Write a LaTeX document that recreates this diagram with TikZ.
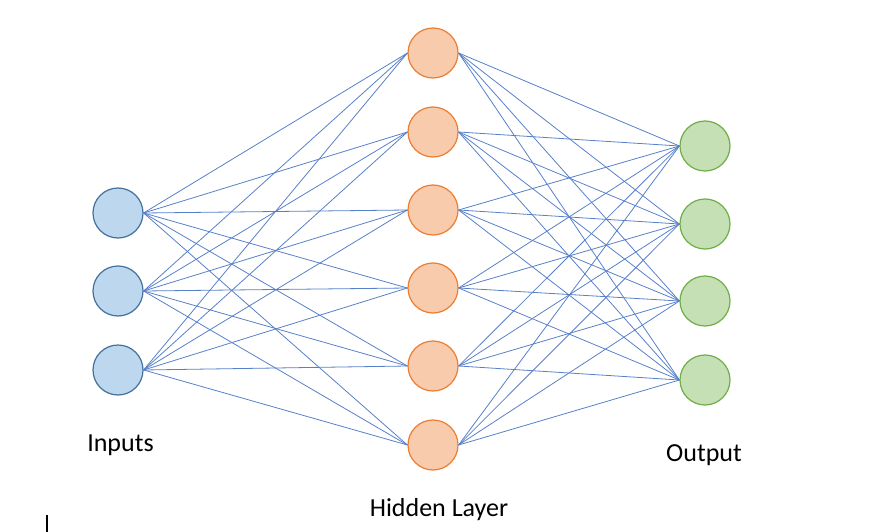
\documentclass[tikz,border=0pt]{standalone}
\usepackage{fontspec}
\setmainfont{Carlito}
\definecolor{linkblue}{HTML}{4472C4}
\definecolor{infill}{HTML}{BDD7EE}
\definecolor{indraw}{HTML}{41719C}
\definecolor{hidfill}{HTML}{F8CBAD}
\definecolor{hiddraw}{HTML}{ED7D31}
\definecolor{outfill}{HTML}{C5E0B4}
\definecolor{outdraw}{HTML}{70AD47}

\begin{document}
\begin{tikzpicture}[x=1pt,y=-1pt,
    neuron/.style={circle, minimum size=50pt, inner sep=0pt, line width=1.2pt},
    inneuron/.style={neuron, draw=indraw, fill=infill},
    hidneuron/.style={neuron, draw=hiddraw, fill=hidfill},
    outneuron/.style={neuron, draw=outdraw, fill=outfill},
    link/.style={draw=linkblue!90, line width=0.8pt},
    layername/.style={anchor=base, inner sep=0pt, font=\fontsize{26}{30}\selectfont}]
    \useasboundingbox (0,0) rectangle (886,532);

    % Capa de entrada
    \foreach \i/\y in {1/213,2/291,3/370} {
        \node[inneuron] (in\i) at (118,\y) {};
    }

    % Capa oculta
    \foreach \i/\y in {1/53,2/132,3/210,4/288,5/366,6/445} {
        \node[hidneuron] (hid\i) at (433,\y) {};
    }

    % Capa de salida
    \foreach \i/\y in {1/146,2/224,3/301,4/380} {
        \node[outneuron] (out\i) at (705,\y) {};
    }

    % Conexiones entrada -> oculta
    \foreach \i in {1,...,3} {
        \foreach \j in {1,...,6} {
            \draw[link] (in\i.east) -- (hid\j.west);
        }
    }

    % Conexiones oculta -> salida
    \foreach \j in {1,...,6} {
        \foreach \k in {1,...,4} {
            \draw[link] (hid\j.east) -- (out\k.west);
        }
    }

    % Nombres de las capas
    \node[layername] (inlabel) at (120.5,451) {Inputs};
    \node[layername] (hidlabel) at (439,516) {Hidden Layer};
    \node[layername] (outlabel) at (704,461) {Output};

    % Cursor
    \draw[line width=1.5pt] (47,515) -- (47,532);

\end{tikzpicture}
\end{document}
